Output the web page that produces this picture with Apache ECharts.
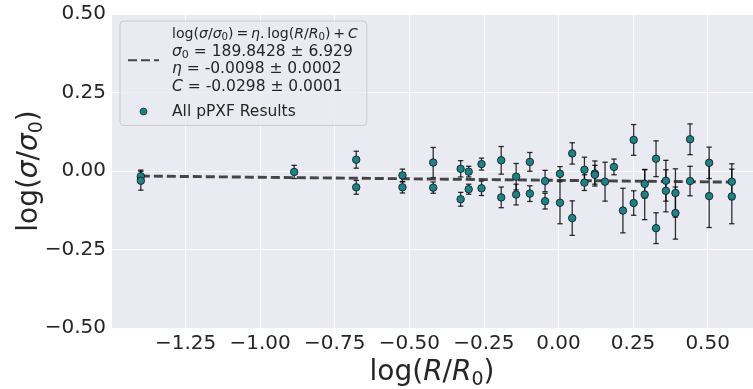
<!DOCTYPE html>
<html>
<head>
<meta charset="utf-8">
<script src="https://cdn.jsdelivr.net/npm/echarts@6/dist/echarts.min.js"></script>
<style>
html,body{margin:0;padding:0;background:#ffffff;}
#chart{width:753px;height:389px;}
</style>
</head>
<body>
<div id="chart"></div>
<script>
// ---- data ----
const logR = [
  -1.400, -1.400, -0.886, -0.678, -0.678, -0.523, -0.523, -0.420, -0.420,
  -0.328, -0.328, -0.301, -0.301, -0.258, -0.258, -0.192, -0.192, -0.142,
  -0.142, -0.096, -0.096, -0.045, -0.045, 0.005, 0.005, 0.046, 0.046,
  0.087, 0.087, 0.122, 0.122, 0.156, 0.186, 0.216, 0.252, 0.252,
  0.289, 0.289, 0.327, 0.327, 0.360, 0.360, 0.392, 0.392, 0.441,
  0.441, 0.505, 0.505, 0.581, 0.581
];
const logSigma = [
  -0.017, -0.031, -0.003, 0.036, -0.052, -0.014, -0.052, 0.027, -0.053,
  0.007, -0.090, -0.002, -0.058, 0.022, -0.055, 0.034, -0.084, -0.018,
  -0.075, 0.029, -0.072, -0.032, -0.096, -0.009, -0.101, 0.056, -0.150,
  0.004, -0.037, -0.008, -0.012, -0.034, 0.013, -0.126, 0.099, -0.102,
  -0.041, -0.075, 0.039, -0.182, -0.031, -0.063, -0.070, -0.134, 0.101,
  -0.032, 0.026, -0.080, -0.034, -0.081
];
const sigmaErr = [
  0.020, 0.030, 0.021, 0.027, 0.022, 0.020, 0.018, 0.048, 0.018,
  0.026, 0.022, 0.017, 0.016, 0.019, 0.023, 0.044, 0.033, 0.042,
  0.033, 0.030, 0.025, 0.034, 0.025, 0.023, 0.067, 0.034, 0.055,
  0.040, 0.025, 0.040, 0.030, 0.062, 0.025, 0.071, 0.049, 0.039,
  0.045, 0.080, 0.057, 0.049, 0.065, 0.067, 0.077, 0.083, 0.049,
  0.047, 0.050, 0.100, 0.057, 0.087
];
// fitted relation endpoints (as drawn)
const fitX = [-1.400, 0.585];
const fitY = [-0.016, -0.0355];
const xTicks = [-1.25, -1.00, -0.75, -0.50, -0.25, 0.00, 0.25, 0.50];
const yTicks = [-0.50, -0.25, 0.00, 0.25, 0.50];

const FONT = 'DejaVu Sans';
const TXT = '#262626';

const points = logR.map((x, i) => [x, logSigma[i]]);
const bars = logR.map((x, i) => [x, logSigma[i], sigmaErr[i]]);
const fitLine = fitX.map((x, i) => [x, fitY[i]]);

function fmt(v) {
  const a = Math.abs(v).toFixed(2);
  return (v < -1e-9 ? '\u2212' : '') + a;
}

const chart = echarts.init(document.getElementById('chart'), null, {renderer: 'canvas'});

const legendRich = {
  n: {fontFamily: FONT, fontSize: 15.5, color: TXT, lineHeight: 17.5},
  i: {fontFamily: FONT, fontSize: 15.5, fontStyle: 'italic', color: TXT, lineHeight: 17.5},
  s: {fontFamily: FONT, fontSize: 11, color: TXT, lineHeight: 11, verticalAlign: 'bottom'},
  n1: {fontFamily: FONT, fontSize: 14.1, color: TXT, lineHeight: 17.5},
  i1: {fontFamily: FONT, fontSize: 14.1, fontStyle: 'italic', color: TXT, lineHeight: 17.5},
  s1: {fontFamily: FONT, fontSize: 10.2, color: TXT, lineHeight: 10.2, verticalAlign: 'bottom'}
};
const nameRich = {
  n: {fontFamily: FONT, fontSize: 28, color: TXT, lineHeight: 34},
  i: {fontFamily: FONT, fontSize: 28, fontStyle: 'italic', color: TXT, lineHeight: 34},
  s: {fontFamily: FONT, fontSize: 19, color: TXT, lineHeight: 19, verticalAlign: 'bottom'}
};
const TS = '\u2009';

const option = {
  backgroundColor: '#ffffff',
  animation: false,
  grid: {left: 111, right: 0, top: 14, bottom: 61, show: true, backgroundColor: '#EAEAF2', borderWidth: 0,
         containLabel: false, outerBoundsMode: 'none'},
  xAxis: {
    type: 'value', min: -1.5, max: 0.652, interval: 0.25,
    axisLine: {show: false}, axisTick: {show: false},
    splitLine: {show: true, lineStyle: {color: '#ffffff', width: 1}},
    axisLabel: {
      showMinLabel: false, showMaxLabel: false,
      fontFamily: FONT, fontSize: 20, color: TXT, margin: 6,
      formatter: v => (xTicks.some(t => Math.abs(t - v) < 1e-6) ? fmt(v) : '')
    },
    name: '{n|log(}{i|R}{n|/}{i|R}{s|0}{n|)}',
    nameLocation: 'middle', nameGap: 28, nameMoveOverlap: false,
    nameTextStyle: {rich: nameRich}
  },
  yAxis: {
    type: 'value', min: -0.5, max: 0.5, interval: 0.25,
    axisLine: {show: false}, axisTick: {show: false},
    splitLine: {show: true, lineStyle: {color: '#ffffff', width: 1}},
    axisLabel: {
      fontFamily: FONT, fontSize: 20, color: TXT, margin: 5,
      formatter: v => (yTicks.some(t => Math.abs(t - v) < 1e-6) ? fmt(v) : '')
    },
    name: '{n|log(}{i|σ}{n|/}{i|σ}{s|0}{n|)}',
    nameLocation: 'middle', nameGap: 64, nameRotate: 90, nameMoveOverlap: false,
    nameTextStyle: {rich: nameRich}
  },
  legend: {
    orient: 'vertical', left: 120, top: 21,
    padding: [6, 9, 6, 7],
    itemWidth: 31, itemHeight: 7, itemGap: 9,
    backgroundColor: 'rgba(234,234,242,0.8)', borderColor: '#cccccc', borderWidth: 1, borderRadius: 4,
    data: [
      {name: 'fit', itemStyle: {color: 'rgba(0,0,0,0)', borderWidth: 0, opacity: 0}},
      {name: 'All pPXF Results', icon: 'circle', itemStyle: {borderWidth: 0.6}}
    ],
    textStyle: {fontFamily: FONT, fontSize: 15.5, color: TXT, padding: [0, 0, 0, 8], rich: legendRich},
    formatter: function (name) {
      if (name === 'fit') {
        return '{n1|log(}{i1|σ}{n1|/}{i1|σ}{s1|0}{n1|)' + TS + '=' + TS + '}{i1|η}{n1|.' + TS + 'log(}{i1|R}{n1|/}{i1|R}{s1|0}{n1|)' + TS + '+' + TS + '}{i1|C}\n' +
               '{i|σ}{s|0}{n| = 189.8428 ± 6.929}\n' +
               '{i|η}{n| = -0.0098 ± 0.0002}\n' +
               '{i|C}{n| = -0.0298 ± 0.0001}';
      }
      return '{n|' + name + '}';
    }
  },
  series: [
    {
      name: 'errors', type: 'custom', z: 2,
      data: bars,
      encode: {x: 0, y: 1},
      renderItem: function (params, api) {
        const x = api.value(0), y = api.value(1), e = api.value(2);
        const t = api.coord([x, y + e]);
        const b = api.coord([x, y - e]);
        const w = 2.7;
        const st = {stroke: 'rgba(0,0,0,0.8)', lineWidth: 1.3};
        return {
          type: 'group',
          children: [
            {type: 'line', shape: {x1: t[0], y1: t[1], x2: b[0], y2: b[1]}, style: st},
            {type: 'line', shape: {x1: t[0] - w, y1: t[1], x2: t[0] + w, y2: t[1]}, style: st},
            {type: 'line', shape: {x1: b[0] - w, y1: b[1], x2: b[0] + w, y2: b[1]}, style: st}
          ]
        };
      }
    },
    {
      name: 'fit', type: 'line', z: 3,
      data: fitLine, symbol: 'none', showSymbol: false,
      lineStyle: {color: 'rgba(45,45,45,0.88)', width: 2.9, type: [9, 4]},
      itemStyle: {color: 'rgba(45,45,45,0.88)'}
    },
    {
      name: 'All pPXF Results', type: 'scatter', z: 4,
      data: points, symbolSize: 7.5,
      itemStyle: {color: '#178585', borderColor: '#111111', borderWidth: 0.8, opacity: 1}
    }
  ]
};
chart.setOption(option);
</script>
</body>
</html>
